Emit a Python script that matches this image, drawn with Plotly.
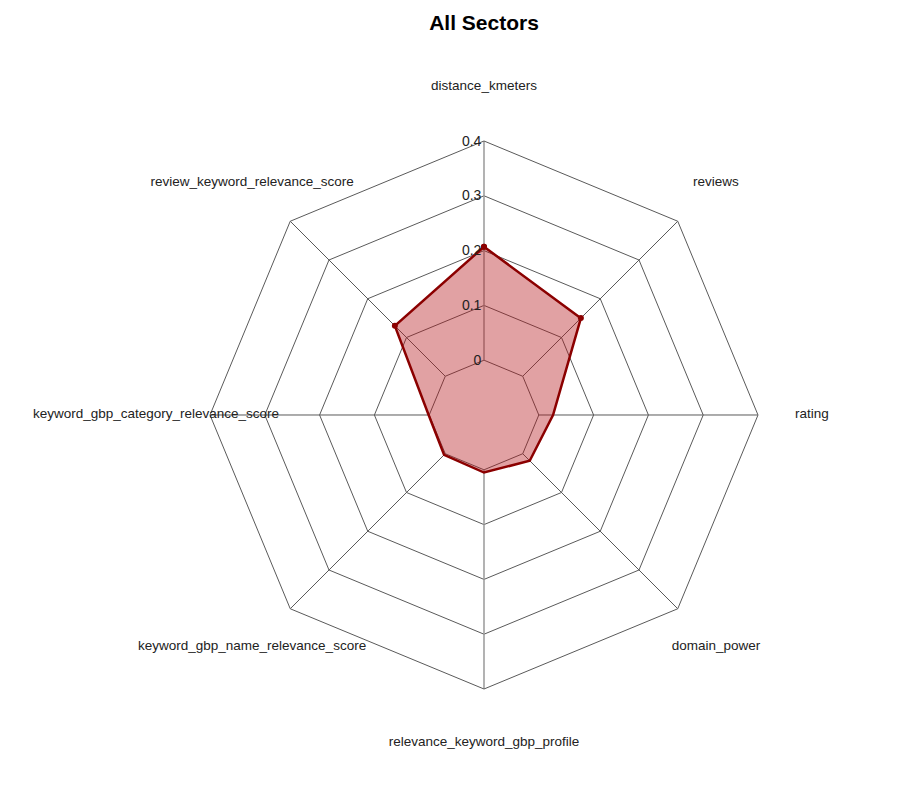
"""Radar chart - All Sectors."""

import plotly.graph_objects as go


# Chart data
CATEGORIES = [
    "distance_kmeters",
    "reviews",
    "rating",
    "domain_power",
    "relevance_keyword_gbp_profile",
    "keyword_gbp_name_relevance_score",
    "keyword_gbp_category_relevance_score",
    "review_keyword_relevance_score",
]
VALUES = [0.207, 0.150, 0.026, 0.018, 0.005, 0.003, 0.001, 0.130]
RADIAL_TICKS = [0, 0.1, 0.2, 0.3, 0.4]
RADIAL_TICK_TEXT = ["0", "0.1", "0.2", "0.3", "0.4"]
SPOKE_R = [0, 0.4]

LINE_COLOR = "#8b0000"
GRID_COLOR = "#5a5a5a"
AXIS_COLOR = "#999999"

# Close the polygon
theta = CATEGORIES + CATEGORIES[:1]
r = VALUES + VALUES[:1]

fig = go.Figure()

# Spokes, from the 0 ring outwards
for i, cat in enumerate(CATEGORIES):
    fig.add_trace(go.Scatterpolar(
        r=SPOKE_R,
        theta=[cat, cat],
        mode="lines",
        line={"color": AXIS_COLOR if i in (0, 4) else GRID_COLOR,
              "width": 1.5 if i in (0, 4) else 1},
        hoverinfo="skip",
        showlegend=False
    ))

# Data polygon
fig.add_trace(go.Scatterpolar(
    r=r,
    theta=theta,
    mode="lines+markers",
    fill="toself",
    fillcolor="rgba(180, 20, 25, 0.4)",
    line={"color": LINE_COLOR, "width": 2.5},
    marker={"color": LINE_COLOR, "size": 6},
    name="All Sectors",
    showlegend=False
))

# Category labels on an outer, invisible polar
fig.add_trace(go.Scatterpolar(
    r=[1] * len(CATEGORIES),
    theta=CATEGORIES,
    mode="text",
    text=CATEGORIES,
    textposition="middle center",
    textfont={"family": "Arial", "size": 13.5, "color": "#222"},
    cliponaxis=False,
    hoverinfo="skip",
    showlegend=False,
    subplot="polar2"
))

angular_common = {
    "categoryorder": "array",
    "categoryarray": CATEGORIES,
    "rotation": 90,
    "direction": "clockwise",
    "showticklabels": False,
    "ticks": "",
}

fig.update_layout(
    title={
        "text": "<b>All Sectors</b>",
        "x": 0.5,
        "xref": "paper",
        "xanchor": "center",
        "y": 1 - 15 / 792,
        "yref": "container",
        "yanchor": "middle",
        "font": {"family": "Arial", "size": 21, "color": "black"}
    },
    width=922,
    height=792,
    margin={"l": 148, "r": 118, "t": 79, "b": 57},
    paper_bgcolor="white",
    font={"family": "Arial"},
    polar={
        "domain": {"x": [0.0823, 0.9177], "y": [0.0823, 0.9177]},
        "bgcolor": "white",
        "gridshape": "linear",
        "radialaxis": {
            "range": [-0.1, 0.4],
            "angle": 90,
            "side": "counterclockwise",
            "tickangle": 90,
            "tickvals": RADIAL_TICKS,
            "ticktext": RADIAL_TICK_TEXT,
            "ticks": "",
            "showline": False,
            "gridcolor": GRID_COLOR,
            "tickfont": {"size": 14, "color": "#222"}
        },
        "angularaxis": {
            **angular_common,
            "showline": True,
            "linecolor": GRID_COLOR,
            "showgrid": False
        }
    },
    polar2={
        "domain": {"x": [0, 1], "y": [0, 1]},
        "bgcolor": "rgba(0,0,0,0)",
        "radialaxis": {
            "range": [0, 1],
            "visible": False,
            "showgrid": False
        },
        "angularaxis": {
            **angular_common,
            "showline": False,
            "showgrid": False
        }
    }
)

fig.write_html("out.html")
